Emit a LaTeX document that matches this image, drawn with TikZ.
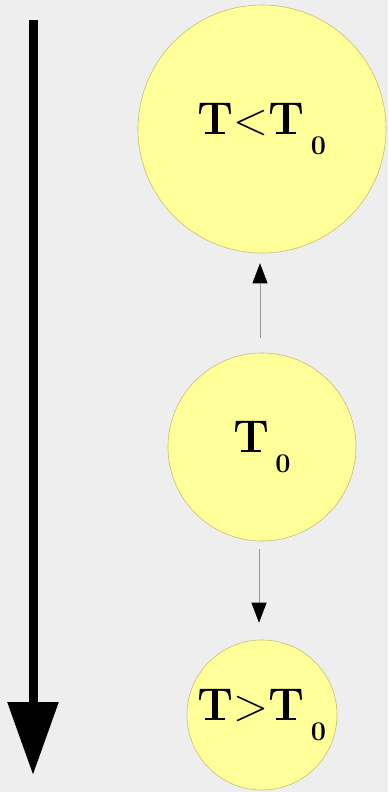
\documentclass[tikz,border=0pt]{standalone}
\usepackage{fontspec}
\usetikzlibrary{arrows.meta}
\definecolor{bgc}{HTML}{EEEEEE}
\definecolor{ballfill}{HTML}{FFFF99}
\definecolor{balledge}{HTML}{C8C070}
\newcommand{\zsub}{\hspace{6pt}\raisebox{-20pt}{\fontsize{27}{27}\selectfont\bfseries 0}}
\newcommand{\rel}[1]{{\mdseries #1}}
\tikzset{
  ball/.style={circle, fill=ballfill, draw=balledge, line width=0.6pt, inner sep=0pt,
    font=\fontsize{46}{50}\selectfont\bfseries},
  thin arrow/.style={draw=black!40, line width=0.8pt, -{Triangle[length=20pt,width=15pt,fill=black,color=black]}}
}
\begin{document}
\begin{tikzpicture}[x=1pt,y=-1pt]
\useasboundingbox (0,0) rectangle (388,792);
\fill[bgc] (0,0) rectangle (388,792);
\node[ball, minimum size=248pt] (cold) at (262,129) {T\rel{<}T\zsub};
\node[ball, minimum size=188pt] (mid) at (262,447) {T\zsub};
\node[ball, minimum size=150pt] (hot) at (262,715) {T\rel{>}T\zsub};
\coordinate (axtop) at (33,20);
\coordinate (axbot) at (33,775);
\draw[line width=9pt, -{Triangle[length=73pt,width=49pt]}] (axtop) -- (axbot);
\draw[thin arrow, shorten <=15pt, shorten >=10pt] ([xshift=-2pt]mid.north) -- ([xshift=-2pt]cold.south);
\draw[thin arrow, shorten <=8pt, shorten >=17pt] ([xshift=-3pt]mid.south) -- ([xshift=-3pt]hot.north);
\end{tikzpicture}
\end{document}
